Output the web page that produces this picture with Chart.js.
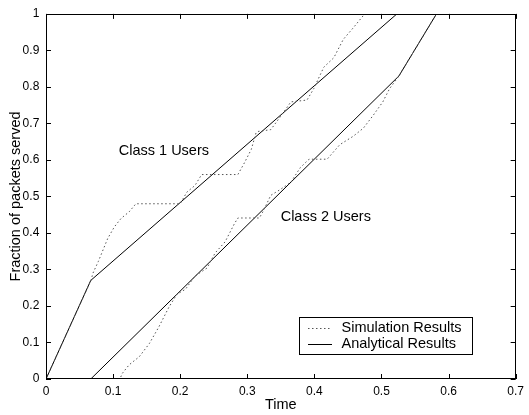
<!DOCTYPE html>
<html>
<head>
<meta charset="utf-8">
<script src="https://cdn.jsdelivr.net/npm/chart.js@4/dist/chart.umd.min.js"></script>
<style>
html,body{margin:0;padding:0;background:#fff;}
canvas{display:block;}
</style>
</head>
<body>
<canvas id="c" width="529" height="415"></canvas>
<script>
// ---- data ----
const xTickLabels = ['0','0.1','0.2','0.3','0.4','0.5','0.6','0.7'];
const yTickLabels = ['0','0.1','0.2','0.3','0.4','0.5','0.6','0.7','0.8','0.9','1'];

const class1SimTime = [0, 0.067, 0.07, 0.078, 0.092, 0.102, 0.112, 0.124, 0.134, 0.2, 0.21, 0.222, 0.232, 0.286, 0.296, 0.306, 0.313, 0.316, 0.335, 0.35, 0.365, 0.389, 0.399, 0.414, 0.429, 0.443, 0.458, 0.475];
const class1SimFrac = [0, 0.27, 0.29, 0.322, 0.385, 0.417, 0.44, 0.458, 0.48, 0.48, 0.512, 0.53, 0.56, 0.56, 0.593, 0.629, 0.674, 0.678, 0.683, 0.72, 0.759, 0.764, 0.795, 0.854, 0.88, 0.93, 0.962, 1.0];

const class2SimTime = [0, 0.11, 0.114, 0.124, 0.139, 0.154, 0.168, 0.183, 0.195, 0.208, 0.222, 0.24, 0.252, 0.267, 0.281, 0.286, 0.318, 0.323, 0.335, 0.35, 0.365, 0.379, 0.392, 0.419, 0.438, 0.458, 0.473, 0.488, 0.502, 0.512, 0.526, 0.582];
const class2SimFrac = [0, 0, 0.016, 0.039, 0.061, 0.097, 0.142, 0.196, 0.232, 0.246, 0.282, 0.304, 0.345, 0.376, 0.426, 0.441, 0.441, 0.457, 0.503, 0.52, 0.539, 0.579, 0.602, 0.602, 0.642, 0.665, 0.687, 0.723, 0.759, 0.795, 0.83, 1.0];

const class1AnaTime = [0, 0.0667, 0.523];
const class1AnaFrac = [0, 0.27, 1.0];
const class2AnaTime = [0, 0.0667, 0.526, 0.582];
const class2AnaFrac = [0, 0, 0.83, 1.0];

const seriesLabels = ['Simulation Results', 'Analytical Results'];
const annotations = [
  {text: 'Class 1 Users', x: 0.1757, y: 0.625},
  {text: 'Class 2 Users', x: 0.417, y: 0.443}
];

const pts = (xs, ys) => xs.map((x, i) => ({x: x, y: ys[i]}));

const FONT = '"Liberation Sans", Arial, Helvetica, sans-serif';
const SIM_COLOR = '#555555';

const dotted = {borderColor: SIM_COLOR, borderWidth: 1, borderDash: [1.5, 2.5], pointRadius: 0, fill: false, tension: 0};
const solid = {borderColor: '#000000', borderWidth: 1, pointRadius: 0, fill: false, tension: 0};

const framePlugin = {
  id: 'frame',
  afterDraw(chart) {
    const ctx = chart.ctx;
    const a = chart.chartArea;
    const xs = chart.scales.x, ys = chart.scales.y;
    ctx.save();
    ctx.strokeStyle = '#000';
    ctx.lineWidth = 1;
    // box
    ctx.strokeRect(Math.round(a.left) + 0.5, Math.round(a.top) + 0.5, Math.round(a.right - a.left) - 1, Math.round(a.bottom - a.top) - 1);
    // inward ticks
    const TL = 5;
    ctx.beginPath();
    xs.ticks.forEach(t => {
      const px = Math.round(xs.getPixelForValue(t.value)) + 0.5;
      ctx.moveTo(px, a.bottom); ctx.lineTo(px, a.bottom - TL);
      ctx.moveTo(px, a.top); ctx.lineTo(px, a.top + TL);
    });
    ys.ticks.forEach(t => {
      const py = Math.round(ys.getPixelForValue(t.value)) + 0.5;
      ctx.moveTo(a.left, py); ctx.lineTo(a.left + TL, py);
      ctx.moveTo(a.right, py); ctx.lineTo(a.right - TL, py);
    });
    ctx.stroke();

    // annotations
    ctx.fillStyle = '#000';
    ctx.font = '14.5px ' + FONT;
    ctx.textAlign = 'center';
    ctx.textBaseline = 'middle';
    annotations.forEach(an => {
      ctx.fillText(an.text, xs.getPixelForValue(an.x), ys.getPixelForValue(an.y));
    });

    // legend box
    const lx = 299.5, ly = 317.5, lw = 173, lh = 37;
    ctx.fillStyle = '#fff';
    ctx.fillRect(lx, ly, lw, lh);
    ctx.strokeRect(lx, ly, lw, lh);
    const rows = [
      {label: seriesLabels[0], ds: chart.data.datasets[0], y: 327.7},
      {label: seriesLabels[1], ds: chart.data.datasets[2], y: 344}
    ];
    rows.forEach(r => {
      ctx.beginPath();
      ctx.strokeStyle = r.ds.borderColor;
      ctx.setLineDash(r.ds.borderDash || []);
      ctx.moveTo(308, Math.round(r.y) + 0.5);
      ctx.lineTo(332, Math.round(r.y) + 0.5);
      ctx.stroke();
      ctx.setLineDash([]);
      ctx.fillStyle = '#000';
      ctx.textAlign = 'left';
      ctx.textBaseline = 'middle';
      ctx.fillText(r.label, 341.5, r.y);
    });
    ctx.restore();
  }
};

new Chart(document.getElementById('c'), {
  type: 'line',
  data: {
    datasets: [
      Object.assign({label: seriesLabels[0], data: pts(class1SimTime, class1SimFrac)}, dotted),
      Object.assign({label: seriesLabels[0] + ' 2', data: pts(class2SimTime, class2SimFrac)}, dotted),
      Object.assign({label: seriesLabels[1], data: pts(class1AnaTime, class1AnaFrac)}, solid),
      Object.assign({label: seriesLabels[1] + ' 2', data: pts(class2AnaTime, class2AnaFrac)}, solid)
    ]
  },
  options: {
    responsive: false,
    devicePixelRatio: 1,
    animation: false,
    parsing: true,
    layout: {padding: {top: 9, right: 8, left: 0, bottom: 0}},
    plugins: {legend: {display: false}, tooltip: {enabled: false}, title: {display: false}},
    scales: {
      x: {
        type: 'linear', min: 0, max: 0.7,
        grid: {display: false, drawTicks: false, tickLength: 0},
        border: {display: false},
        ticks: {stepSize: 0.1, padding: 5, color: '#000', font: {family: FONT, size: 12},
                maxRotation: 0, autoSkip: false,
                callback: (v, i) => xTickLabels[i]},
        title: {display: true, text: 'Time', color: '#000', font: {family: FONT, size: 14.5}, padding: {top: 0, bottom: 1.6}},
        afterFit: s => { s.height = 36; }
      },
      y: {
        type: 'linear', min: 0, max: 1,
        grid: {display: false, drawTicks: false, tickLength: 0},
        border: {display: false},
        ticks: {stepSize: 0.1, padding: 6.7, color: '#000', font: {family: FONT, size: 12},
                autoSkip: false,
                callback: (v, i) => yTickLabels[i]},
        title: {display: true, text: 'Fraction of packets served', color: '#000', font: {family: FONT, size: 14.5}, padding: {top: 6.8, bottom: 0}},
        afterFit: s => { s.width = 46; }
      }
    }
  },
  plugins: [framePlugin]
});
</script>
</body>
</html>
